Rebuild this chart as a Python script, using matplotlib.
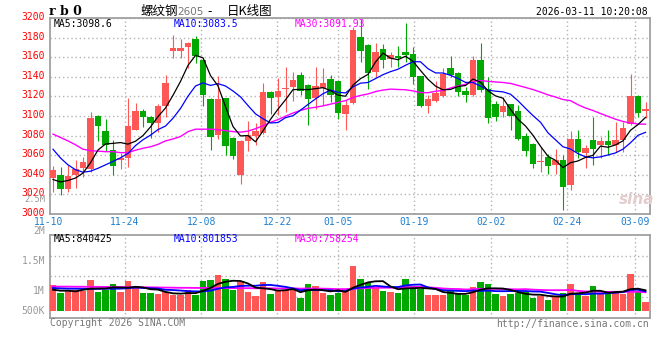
import numpy as np
import pandas as pd
import matplotlib
matplotlib.use("Agg")
import matplotlib.pyplot as plt
from matplotlib.transforms import ScaledTranslation

# ---------------- data ----------------
opens = [3037, 3040, 3025, 3040, 3047, 3046, 3100, 3085, 3065, 3055,
         3057, 3086, 3105, 3099, 3093, 3110, 3167, 3167, 3171, 3179,
         3157, 3117, 3081, 3118, 3077, 3040, 3074, 3080, 3083, 3125,
         3119, 3128, 3130, 3142, 3132, 3118, 3129, 3138, 3136, 3102,
         3113, 3181, 3173, 3145, 3169, 3158, 3161, 3165, 3163, 3141,
         3110, 3115, 3120, 3149, 3144, 3126, 3122, 3157, 3128, 3112,
         3104, 3112, 3105, 3080, 3071, 3053, 3058, 3050, 3055, 3029,
         3076, 3062, 3075, 3070, 3074, 3070, 3075, 3092, 3120, 3105]
highs = [3049, 3048, 3050, 3055, 3058, 3104, 3101, 3097, 3075, 3062,
         3118, 3113, 3107, 3100, 3112, 3142, 3183, 3179, 3176, 3182,
         3158, 3118, 3141, 3118, 3078, 3075, 3095, 3093, 3134, 3126,
         3139, 3150, 3145, 3145, 3133, 3150, 3149, 3142, 3136, 3116,
         3191, 3199, 3174, 3175, 3174, 3165, 3172, 3195, 3171, 3141,
         3122, 3136, 3149, 3161, 3145, 3130, 3161, 3175, 3140, 3115,
         3119, 3112, 3111, 3083, 3072, 3068, 3061, 3066, 3060, 3085,
         3086, 3070, 3099, 3079, 3086, 3094, 3094, 3143, 3121, 3114]
lows = [3022, 3019, 3022, 3026, 3038, 3043, 3074, 3064, 3040, 3046,
        3048, 3086, 3089, 3077, 3084, 3099, 3159, 3159, 3149, 3154,
        3110, 3065, 3076, 3060, 3056, 3030, 3064, 3070, 3082, 3102,
        3101, 3104, 3115, 3122, 3091, 3107, 3111, 3114, 3097, 3086,
        3112, 3155, 3128, 3140, 3149, 3150, 3150, 3155, 3133, 3109,
        3103, 3114, 3119, 3140, 3120, 3114, 3120, 3125, 3093, 3095,
        3099, 3086, 3075, 3059, 3047, 3043, 3041, 3041, 3004, 3024,
        3057, 3047, 3050, 3057, 3060, 3063, 3063, 3091, 3099, 3098]
closes = [3045, 3025, 3039, 3046, 3053, 3098, 3090, 3070, 3049, 3057,
          3090, 3105, 3099, 3093, 3110, 3134, 3170, 3170, 3175, 3161,
          3122, 3079, 3117, 3069, 3059, 3074, 3081, 3085, 3125, 3118,
          3126, 3129, 3137, 3126, 3117, 3131, 3134, 3122, 3103, 3111,
          3188, 3167, 3144, 3166, 3157, 3162, 3159, 3162, 3140, 3110,
          3117, 3124, 3143, 3142, 3125, 3122, 3157, 3127, 3098, 3099,
          3110, 3100, 3076, 3064, 3051, 3054, 3049, 3055, 3027, 3076,
          3063, 3067, 3066, 3074, 3070, 3075, 3088, 3120, 3103, 3107]
volumes = [1050000, 735000, 872000, 872000, 801000, 1287000, 776000, 872000, 1108000, 776000,
           1245000, 967000, 735000, 735000, 693000, 776000, 664000, 664000, 872000, 664000,
           1245000, 1287000, 1494000, 1316000, 872000, 1191000, 776000, 623000, 1191000, 693000,
           872000, 872000, 872000, 527000, 1108000, 1008000, 735000, 635000, 735000, 801000,
           1868000, 1316000, 1150000, 967000, 830000, 776000, 735000, 1316000, 1008000, 901000,
           664000, 635000, 664000, 830000, 693000, 664000, 984000, 1191000, 1108000, 693000,
           623000, 693000, 735000, 760000, 527000, 593000, 457000, 623000, 735000, 1108000,
           693000, 593000, 1008000, 735000, 693000, 830000, 693000, 1523000, 830000, 361000]

# moving-average values before enough history is visible
ma5_head = [3035, 3032.5, 3034, 3036.5]
ma10_head = [3066, 3057, 3050, 3045, 3042.5, 3043.5, 3046.5, 3050, 3053.5]
ma30_head = [3081.5, 3078, 3074.5, 3070.5, 3066, 3064.5, 3064, 3063.5, 3063.5, 3062.5,
             3062.5, 3065, 3067, 3068.5, 3071, 3074.5, 3076.5, 3079, 3084, 3086.5,
             3086.5, 3086.5, 3086, 3085, 3084, 3083.5, 3084.5, 3087, 3090]
vma5_head = [871000, 830000, 830000, 802000]
vma10_head = [940000, 925000, 915000, 912000, 910000, 905000, 905000, 910000, 912000]
vma30_head = [1005000, 1000000, 1000000, 995000, 995000, 990000, 990000, 985000, 985000, 980000,
              980000, 975000, 970000, 970000, 965000, 960000, 955000, 950000, 950000, 945000,
              945000, 945000, 945000, 940000, 940000, 935000, 935000, 930000, 930000]

tick_labels = ["11-10", "11-24", "12-08", "12-22", "01-05", "01-19", "02-02", "02-24", "03-09"]
tick_idx = [0, 10, 20, 30, 38, 48, 58, 68, 77]
price_ticks = list(range(3000, 3201, 20))
ma_price_labels = ["MA5:3098.6", "MA10:3083.5", "MA30:3091.93"]
ma_vol_labels = ["MA5:840425", "MA10:801853", "MA30:758254"]
vol_axis_labels = ["2.5M", "2M", "1.5M", "1M", "500K"]

# ---------------- style ----------------
RED = "#ff5656"
GREEN = "#00a800"
GRID = "#b4b4b4"
BORDER = "#a0a0a0"
MONO = "DejaVu Sans Mono"
CJK = ["Noto Sans CJK SC", "DejaVu Sans"]
W, H = 660, 360


def fx(x):
    return x / W


def fy(y):
    return 1 - y / H


def ma(values, n, head):
    r = pd.Series(values, dtype=float).rolling(n).mean().to_numpy()
    r[: n - 1] = head
    return r


o = np.array(opens, float)
h = np.array(highs, float)
l = np.array(lows, float)
c = np.array(closes, float)
v = np.array(volumes, float)
x = np.arange(len(c))
cols = np.where(c >= o, RED, GREEN)

fig = plt.figure(figsize=(6.6, 3.6), dpi=100)
fig.patch.set_facecolor("white")

ax = fig.add_axes([fx(50), fy(213.7), fx(650) - fx(50), fy(18.3) - fy(213.7)])
ax2 = fig.add_axes([fx(50), fy(318), fx(650) - fx(50), fy(234.7) - fy(318)])

XMIN, XMAX = -0.4, len(c) - 0.4
grid_x = -0.555 + 1.0155 * np.array(tick_idx)
dot = (0, (1, 2))

# ---------------- price panel ----------------
ax.set_xlim(XMIN, XMAX)
ax.set_ylim(3000, 3200)
ax.set_yticks(price_ticks)
ax.set_xticks([])
ax.grid(True, axis="y", color=GRID, linestyle=dot, linewidth=1)
for g in grid_x:
    ax.axvline(g, color=GRID, linestyle=dot, linewidth=1, zorder=0)
ax.tick_params(axis="y", length=0, pad=4, labelcolor="#ff0000", labelsize=7)
for lab in ax.get_yticklabels():
    lab.set_fontfamily(MONO)
    lab.set_transform(lab.get_transform() + ScaledTranslation(0, 2 / 100, fig.dpi_scale_trans))

ax.vlines(x, l, h, colors=cols, linewidth=0.8, zorder=3)
ax.bar(x, np.maximum(np.abs(c - o), 0.8), bottom=np.minimum(o, c), width=0.84,
       color=cols, linewidth=0, zorder=4)

ax.plot(x, ma(c, 30, ma30_head), color="#ff00ff", lw=1.0, zorder=5)
ax.plot(x, ma(c, 10, ma10_head), color="#0000ff", lw=0.9, zorder=6)
ax.plot(x, ma(c, 5, ma5_head), color="#000000", lw=0.9, zorder=7)

for sp in ax.spines.values():
    sp.set_color(BORDER)
    sp.set_linewidth(1.3)

for g, lab in zip(grid_x, tick_labels):
    ax.text(g, -8 / 195.4, lab, transform=ax.get_xaxis_transform(), ha="center",
            va="center", fontsize=7, family=MONO, color="#1f7fcf", clip_on=False)

# ---------------- volume panel ----------------
VOL_YMIN, VOL_YMAX = -303000, 3154000
ax2.set_xlim(XMIN, XMAX)
ax2.set_ylim(VOL_YMIN, VOL_YMAX)
ax2.set_yticks(np.linspace(VOL_YMIN, VOL_YMAX, 5)[1:-1])
ax2.set_xticks([])
ax2.tick_params(axis="y", length=0, labelleft=False)
ax2.grid(True, axis="y", color=GRID, linestyle=dot, linewidth=1)
for g in grid_x:
    ax2.axvline(g, color=GRID, linestyle=dot, linewidth=1, zorder=0)
ax2.bar(x, v, width=0.84, color=cols, linewidth=0, zorder=3)
ax2.plot(x, ma(v, 30, vma30_head), color="#ff00ff", lw=1.3, zorder=5)
ax2.plot(x, ma(v, 10, vma10_head), color="#0000ff", lw=1.3, zorder=6)
ax2.plot(x, ma(v, 5, vma5_head), color="#000000", lw=1.3, zorder=7)
for sp in ax2.spines.values():
    sp.set_color(BORDER)
    sp.set_linewidth(1.3)

# ---------------- texts ----------------
ma_colors = ["#000000", "#0000ff", "#ff00ff"]
ma_x = [54, 174, 295]
for t, col_, xx in zip(ma_price_labels, ma_colors, ma_x):
    fig.text(fx(xx), fy(24), t, fontsize=7, family=MONO, color=col_, ha="left", va="center")
for t, col_, xx in zip(ma_vol_labels, ma_colors, ma_x):
    fig.text(fx(xx), fy(238.5), t, fontsize=7, family=MONO, color=col_, ha="left", va="center")

vol_label_sizes = [6.3, 7, 7, 7, 7]
for t, yy, fs in zip(vol_axis_labels, [200, 230.7, 260.7, 290.7, 310.7], vol_label_sizes):
    fig.text(fx(45), fy(yy), t, fontsize=fs, family=MONO, color="#999999", ha="right", va="center")

fig.text(fx(49), fy(11.5), "r b 0", fontsize=9, family="DejaVu Serif", weight="bold",
         color="#000000", ha="left", va="center")
fig.text(fx(140), fy(11.5), "螺纹钢", fontsize=9, family=CJK, color="#000000", ha="left", va="center")
fig.text(fx(177), fy(12), "2605", fontsize=7.5, family="DejaVu Sans", color="#777777", ha="left", va="center")
fig.text(fx(207), fy(11.5), "-", fontsize=9, family=CJK, color="#000000", ha="left", va="center")
fig.text(fx(227), fy(11.5), "日K线图", fontsize=9, family=CJK, color="#000000", ha="left", va="center")
fig.text(fx(648), fy(12), "2026-03-11 10:20:08", fontsize=7, family=MONO, color="#000000",
         ha="right", va="center")

fig.text(fx(50), fy(323.5), "Copyright 2026 SINA.COM", fontsize=7, family=MONO, color="#777777",
         ha="left", va="center")
fig.text(fx(649), fy(324), "http://finance.sina.com.cn", fontsize=7, family=MONO, color="#777777",
         ha="right", va="center")
fig.text(fx(637), fy(200), "sina", fontsize=11, style="italic", weight="bold", color="#e2cccc",
         ha="center", va="center")

fig.savefig("out.png", dpi=100, facecolor="white")
